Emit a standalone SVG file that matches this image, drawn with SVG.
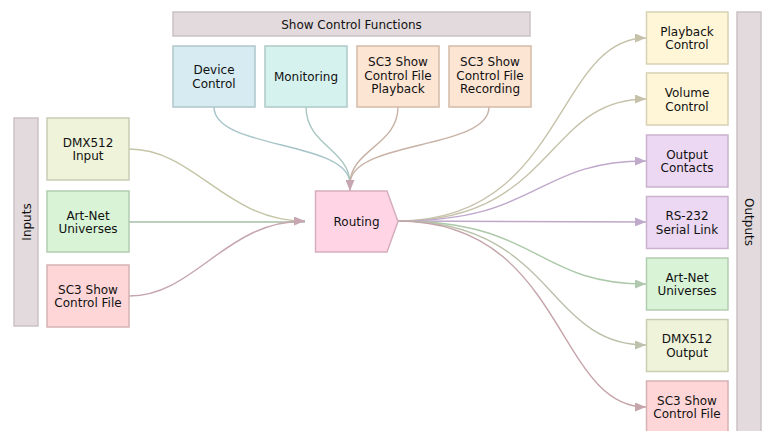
<svg xmlns="http://www.w3.org/2000/svg" width="768" height="431" viewBox="0 0 768 431">
<style>
text{font-family:"DejaVu Sans","Liberation Sans",sans-serif;font-size:12px;fill:#111;text-anchor:middle}
.bar{fill:#e3dadd;stroke:#cbc2c5;stroke-width:1.5}
.e{fill:none;stroke-width:1.4}
.n{stroke-width:1.5}
</style>
<defs>
<marker id="aMauve" markerWidth="11" markerHeight="9" refX="11" refY="4.5" orient="auto" markerUnits="userSpaceOnUse"><path d="M0,0 L11,4.5 L0,9 z" fill="#c7a6b2"/></marker>
<marker id="aKhaki" markerWidth="11" markerHeight="9" refX="11" refY="4.5" orient="auto" markerUnits="userSpaceOnUse"><path d="M0,0 L11,4.5 L0,9 z" fill="#c6c2aa"/></marker>
<marker id="aPurple" markerWidth="11" markerHeight="9" refX="11" refY="4.5" orient="auto" markerUnits="userSpaceOnUse"><path d="M0,0 L11,4.5 L0,9 z" fill="#c0aacb"/></marker>
<marker id="aGreen" markerWidth="11" markerHeight="9" refX="11" refY="4.5" orient="auto" markerUnits="userSpaceOnUse"><path d="M0,0 L11,4.5 L0,9 z" fill="#b0c8ae"/></marker>
<marker id="aOlive" markerWidth="11" markerHeight="9" refX="11" refY="4.5" orient="auto" markerUnits="userSpaceOnUse"><path d="M0,0 L11,4.5 L0,9 z" fill="#bcc2ac"/></marker>
<marker id="aRose" markerWidth="11" markerHeight="9" refX="11" refY="4.5" orient="auto" markerUnits="userSpaceOnUse"><path d="M0,0 L11,4.5 L0,9 z" fill="#c7a6ab"/></marker>
</defs>

<g id="inputs-bar"><rect class="bar" x="14" y="118" width="24" height="208"/><text transform="translate(30.5,222) rotate(-90)">Inputs</text></g>
<g id="outputs-bar"><rect class="bar" x="737" y="12" width="24" height="425"/><text transform="translate(745,222) rotate(90)">Outputs</text></g>
<g id="functions-bar"><rect class="bar" x="173" y="12" width="357" height="24"/><text x="351.5" y="28.5">Show Control Functions</text></g>

<g id="connectors">
<path class="e" stroke="#c4c4a6" d="M129,149 C195,149 225,221 305,221"/>
<path class="e" stroke="#a6bea6" d="M129,222 L305,222"/>
<path class="e" stroke="#c5a5ad" d="M129,296 C195,296 225,221 305,221" marker-end="url(#aMauve)"/>
<path class="e" stroke="#a6c4c8" d="M214,107 C214,150 350,140 350,184"/>
<path class="e" stroke="#a8c6c2" d="M306,107 C306,145 350,150 350,184"/>
<path class="e" stroke="#c8b2a6" d="M398,107 C398,145 350,150 350,184"/>
<path class="e" stroke="#c8b2a6" d="M489,107 C489,150 350,140 350,184"/>
<path class="e" stroke="#c7a6b2" d="M350,183 L350,191" marker-end="url(#aMauve)"/>
<path class="e" stroke="#c6c2aa" d="M398,221 C565,221 555,38 646,38" marker-end="url(#aKhaki)"/>
<path class="e" stroke="#c6c2aa" d="M398,221 C555,221 545,99 646,99" marker-end="url(#aKhaki)"/>
<path class="e" stroke="#bfa8cb" d="M398,221 C540,221 535,161 646,161" marker-end="url(#aPurple)"/>
<path class="e" stroke="#bfa8c8" d="M398,221 L646,222" marker-end="url(#aPurple)"/>
<path class="e" stroke="#accaaa" d="M398,221 C540,221 535,284 646,284" marker-end="url(#aGreen)"/>
<path class="e" stroke="#b9c1a9" d="M398,221 C555,221 545,345 646,345" marker-end="url(#aOlive)"/>
<path class="e" stroke="#c5a5aa" d="M398,221 C565,221 555,407 646,407" marker-end="url(#aRose)"/>
</g>

<g id="dmx-in"><rect class="n" x="47" y="118" width="82" height="62" fill="#eef3d9" stroke="#c9cdb2"/><text x="88" y="146.5">DMX512</text><text x="88" y="160">Input</text></g>
<g id="artnet-in"><rect class="n" x="47" y="191" width="82" height="61" fill="#d8f3d6" stroke="#b2cdb0"/><text x="88" y="219.5">Art-Net</text><text x="88" y="233">Universes</text></g>
<g id="sc3-in"><rect class="n" x="47" y="265" width="82" height="62" fill="#ffd6d8" stroke="#d6b2b4"/><text x="88" y="293.5">SC3 Show</text><text x="88" y="307">Control File</text></g>

<g id="routing"><path class="n" d="M315.5,191 L387,191 L398,221.5 L387,252 L315.5,252 Z" fill="#ffd5e6" stroke="#d6aebe"/><text x="356.5" y="225.5">Routing</text></g>

<g id="device-control"><rect class="n" x="173" y="46" width="82" height="61" fill="#d6ebf2" stroke="#aec6ca"/><text x="214" y="74">Device</text><text x="214" y="87.5">Control</text></g>
<g id="monitoring"><rect class="n" x="265" y="46" width="82" height="61" fill="#d6f2ee" stroke="#aecac6"/><text x="306" y="80.5">Monitoring</text></g>
<g id="sc3-playback"><rect class="n" x="357" y="46" width="82" height="61" fill="#fde5d4" stroke="#d2baa8"/><text x="398" y="66">SC3 Show</text><text x="398" y="79.5">Control File</text><text x="398" y="93">Playback</text></g>
<g id="sc3-recording"><rect class="n" x="449" y="46" width="82" height="61" fill="#fde5d4" stroke="#d2baa8"/><text x="490" y="66">SC3 Show</text><text x="490" y="79.5">Control File</text><text x="490" y="93">Recording</text></g>

<g id="playback-control"><rect class="n" x="646.5" y="12" width="81.5" height="52" fill="#fff6d8" stroke="#d8d1b2"/><text x="687" y="35.5">Playback</text><text x="687" y="49">Control</text></g>
<g id="volume-control"><rect class="n" x="646.5" y="73" width="81.5" height="52" fill="#fff6d8" stroke="#d8d1b2"/><text x="687" y="97">Volume</text><text x="687" y="110.5">Control</text></g>
<g id="output-contacts"><rect class="n" x="646.5" y="135" width="81.5" height="52" fill="#ecd8f2" stroke="#cab2ce"/><text x="687" y="158.5">Output</text><text x="687" y="172">Contacts</text></g>
<g id="rs232"><rect class="n" x="646.5" y="196.5" width="81.5" height="52" fill="#ecd8f2" stroke="#cab2ce"/><text x="687" y="220">RS-232</text><text x="687" y="233.5">Serial Link</text></g>
<g id="artnet-out"><rect class="n" x="646.5" y="258" width="81.5" height="52" fill="#d8f3d6" stroke="#b2cdb0"/><text x="687" y="281.5">Art-Net</text><text x="687" y="295">Universes</text></g>
<g id="dmx-out"><rect class="n" x="646.5" y="319.5" width="81.5" height="52" fill="#eef3d9" stroke="#c9cdb2"/><text x="687" y="343">DMX512</text><text x="687" y="356.5">Output</text></g>
<g id="sc3-out"><rect class="n" x="646.5" y="381" width="81.5" height="52" fill="#ffd6d8" stroke="#d6b2b4"/><text x="687" y="404.5">SC3 Show</text><text x="687" y="418">Control File</text></g>
</svg>
